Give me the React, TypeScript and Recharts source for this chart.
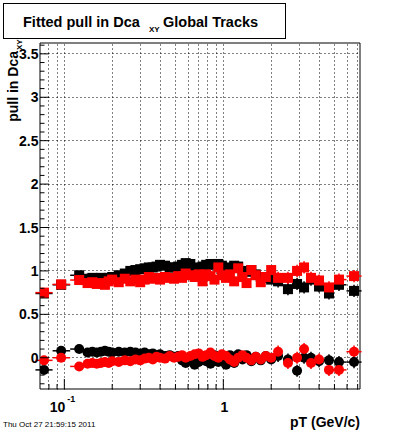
import React from "react";
import {
  ScatterChart,
  Scatter,
  XAxis,
  YAxis,
  ErrorBar,
  ReferenceLine,
  ReferenceArea,
} from "recharts";

// pT bin centres (GeV/c)
const ptBins = [
  0.0745, 0.0955, 0.124, 0.14, 0.15, 0.16, 0.17, 0.18, 0.19, 0.2, 0.22, 0.24,
  0.26, 0.28, 0.3, 0.32, 0.34, 0.36, 0.38, 0.4, 0.43, 0.46, 0.49, 0.52, 0.55,
  0.58, 0.62, 0.66, 0.7, 0.74, 0.78, 0.83, 0.88, 0.93, 0.98, 1.04, 1.1, 1.17,
  1.24, 1.32, 1.4, 1.5, 1.6, 1.72, 1.85, 2.0, 2.21, 2.55, 2.91, 3.22, 3.56, 4.0,
  4.62, 5.34, 6.64,
];

// pull width (squares)
const blackWidth = [
  0.74, 0.84, 0.95, 0.91, 0.92, 0.91, 0.92, 0.9, 0.92, 0.93, 0.95, 0.97, 1.0,
  1.01, 1.02, 1.03, 1.04, 1.04, 1.05, 1.07, 1.06, 1.04, 1.04, 1.05, 1.07, 1.09,
  1.08, 1.04, 1.03, 1.05, 1.07, 1.08, 1.07, 1.08, 1.06, 1.04, 1.03, 1.06, 1.05,
  1.0, 0.99, 1.01, 0.96, 0.93, 0.92, 0.9, 0.88, 0.79, 0.85, 0.81, 0.9, 0.82,
  0.74, 0.84, 0.77,
];
const redWidth = [
  0.75, 0.845, 0.895, 0.86, 0.87, 0.85, 0.86, 0.84, 0.88, 0.9, 0.87, 0.91, 0.88,
  0.9, 0.87, 0.9, 0.93, 0.91, 0.92, 0.9, 0.93, 0.92, 0.91, 0.94, 0.92, 0.97,
  0.95, 0.93, 0.96, 0.88, 0.96, 0.94, 0.9, 1.04, 0.95, 0.92, 0.96, 0.88, 1.03,
  0.93, 0.86, 1.01, 0.95, 0.87, 0.93, 1.01, 0.92, 0.92, 1.0, 1.04, 0.92, 0.89,
  0.81, 0.9, 0.94,
];

// pull mean (circles)
const blackMean = [
  -0.14, 0.08, 0.1, 0.06, 0.07, 0.06, 0.07, 0.08, 0.07, 0.06, 0.07, 0.06, 0.07,
  0.06, 0.05, 0.06, 0.04, 0.05, 0.03, 0.04, 0.02, 0.03, 0.01, 0.02, -0.03,
  -0.06, 0.0, -0.08, -0.05, 0.02, -0.04, -0.07, 0.03, -0.05, -0.02, -0.08, 0.03,
  -0.06, 0.04, -0.02, 0.03, -0.04, 0.01, -0.03, 0.02, -0.02, 0.02, -0.02, -0.15,
  0.0, 0.0, -0.04, -0.03, -0.05, -0.05,
];
const redMean = [
  -0.03, 0.0, -0.1, -0.07, -0.06, -0.07, -0.06, -0.05, -0.06, -0.04, -0.05,
  -0.03, -0.04, -0.02, -0.03, -0.01, 0.0, -0.02, 0.01, 0.0, -0.01, 0.02, 0.0,
  0.01, 0.03, 0.0, 0.02, 0.04, 0.05, 0.01, 0.03, 0.06, 0.02, 0.0, 0.04, 0.02,
  -0.02, -0.05, 0.0, 0.03, 0.0, -0.03, 0.01, -0.02, 0.02, 0.0, 0.07, -0.06, 0.0,
  0.1, -0.06, -0.02, -0.14, -0.14, 0.07,
];

const xTicks = [0.08, 0.09, 0.1, 0.2, 0.3, 0.4, 0.5, 0.6, 0.7, 0.8, 0.9, 1, 2, 3, 4, 5, 6, 7];
const yTicks = [
  -0.3, -0.2, -0.1, 0, 0.1, 0.2, 0.3, 0.4, 0.5, 0.6, 0.7, 0.8, 0.9, 1, 1.1, 1.2,
  1.3, 1.4, 1.5, 1.6, 1.7, 1.8, 1.9, 2, 2.1, 2.2, 2.3, 2.4, 2.5, 2.6, 2.7, 2.8,
  2.9, 3, 3.1, 3.2, 3.3, 3.4, 3.5, 3.6,
];
const yGrid = [0, 0.5, 1, 1.5, 2, 2.5, 3, 3.5];

const xDomain: [number, number] = [0.0703, 7.24];
const yDomain: [number, number] = [-0.36, 3.625];

const FONT = '"Liberation Sans", Arial, Helvetica, sans-serif';
const RED = "#ff0000";

// horizontal bars span half way (in log) to the neighbouring bins
const xErrors = ptBins.map((p, i) => {
  const prev = i > 0 ? ptBins[i - 1] : (p * p) / ptBins[i + 1];
  const next = i < ptBins.length - 1 ? ptBins[i + 1] : (p * p) / ptBins[i - 1];
  return [p - Math.sqrt(prev * p), Math.sqrt(next * p) - p];
});

const makeData = (values: number[]) =>
  ptBins.map((pt, i) => ({
    pt,
    v: values[i],
    ex: xErrors[i],
    ey: pt > 2.1 ? 0.07 : 0.03,
  }));

const square = (color: string) => (props: any) =>
  <rect x={props.cx - 5} y={props.cy - 5} width={10} height={10} fill={color} />;

const circle = (color: string) => (props: any) =>
  <circle cx={props.cx} cy={props.cy} r={5} fill={color} />;

// snap the dotted grid onto pixel centres so it stays crisp
const crisp = (v: number) => Math.round(v - 0.5) + 0.5;
const GridLine = (props: any) => (
  <line
    x1={crisp(props.x1)}
    y1={crisp(props.y1)}
    x2={crisp(props.x2)}
    y2={crisp(props.y2)}
    stroke="#000"
    strokeWidth={1}
    strokeDasharray="1 3"
  />
);

const XTick = (props: any) => {
  const { x, y, payload } = props;
  const v = payload.value;
  const major = v === 0.1 || v === 1;
  return (
    <g>
      <line x1={x} y1={y} x2={x} y2={y - (major ? 10 : 5)} stroke="#000" />
      {v === 0.1 && (
        <g fontFamily={FONT} fontWeight="bold" fill="#000">
          <text x={x + 1} y={y + 23} fontSize={14} textAnchor="end">10</text>
          <text x={x + 3} y={y + 13} fontSize={9}>-1</text>
        </g>
      )}
      {v === 1 && (
        <text x={x + 1} y={y + 23} fontSize={14} textAnchor="middle" fontFamily={FONT} fontWeight="bold" fill="#000">
          1
        </text>
      )}
    </g>
  );
};

const YTick = (props: any) => {
  const { x, y, payload } = props;
  const v = payload.value;
  const major = Math.abs(v * 2 - Math.round(v * 2)) < 1e-6;
  return (
    <g>
      <line x1={x} y1={y} x2={x + (major ? 9 : 4.5)} y2={y} stroke="#000" />
      {major && (
        <text x={x - 1.5} y={y} dy="0.36em" textAnchor="end" fontSize={14} fontFamily={FONT} fontWeight="bold" fill="#000">
          {String(Number(v.toFixed(1)))}
        </text>
      )}
    </g>
  );
};

export default function App() {
  return (
    <div style={{ position: "absolute", left: 0, top: 0, width: 400, height: 433, background: "#fff" }}>
      <ScatterChart width={400} height={433} margin={{ top: 43, right: 40, bottom: 14, left: 10 }}>
        <XAxis
          type="number"
          dataKey="pt"
          scale="log"
          domain={xDomain}
          allowDataOverflow
          ticks={xTicks}
          interval={0}
          tick={<XTick />}
          tickSize={0}
          tickMargin={0}
          tickLine={false}
          axisLine={false}
          height={30}
        />
        <YAxis
          type="number"
          dataKey="v"
          domain={yDomain}
          allowDataOverflow
          ticks={yTicks}
          interval={0}
          tick={<YTick />}
          tickSize={0}
          tickMargin={0}
          tickLine={false}
          axisLine={false}
          width={30}
        />
        {xTicks.map((t) => (
          <ReferenceLine key={"gx" + t} x={t} shape={GridLine} />
        ))}
        {yGrid.map((t) => (
          <ReferenceLine key={"gy" + t} y={t} shape={GridLine} />
        ))}
        <ReferenceArea
          x1={xDomain[0]}
          x2={xDomain[1]}
          y1={yDomain[0]}
          y2={yDomain[1]}
          fill="none"
          fillOpacity={0}
          stroke="#000"
          strokeWidth={1}
        />
        <Scatter data={makeData(blackWidth)} shape={square("#000")} isAnimationActive={false}>
          <ErrorBar dataKey="ex" direction="x" width={0} stroke="#000" />
          <ErrorBar dataKey="ey" direction="y" width={0} stroke="#000" />
        </Scatter>
        <Scatter data={makeData(blackMean)} shape={circle("#000")} isAnimationActive={false}>
          <ErrorBar dataKey="ex" direction="x" width={0} stroke="#000" />
          <ErrorBar dataKey="ey" direction="y" width={0} stroke="#000" />
        </Scatter>
        <Scatter data={makeData(redWidth)} shape={square(RED)} isAnimationActive={false}>
          <ErrorBar dataKey="ex" direction="x" width={0} stroke={RED} />
          <ErrorBar dataKey="ey" direction="y" width={0} stroke={RED} />
        </Scatter>
        <Scatter data={makeData(redMean)} shape={circle(RED)} isAnimationActive={false}>
          <ErrorBar dataKey="ex" direction="x" width={0} stroke={RED} />
          <ErrorBar dataKey="ey" direction="y" width={0} stroke={RED} />
        </Scatter>
      </ScatterChart>
      <svg
        width={400}
        height={433}
        style={{ position: "absolute", left: 0, top: 0, pointerEvents: "none" }}
        fontFamily={FONT}
      >
        <rect x={3.5} y={3.5} width={282} height={35} fill="#fff" stroke="#000" />
        <text x={23} y={27} fontSize={14.5} fontWeight="bold">Fitted pull in Dca</text>
        <text x={149} y={32} fontSize={8} fontWeight="bold">XY</text>
        <text x={163} y={27} fontSize={14.5} fontWeight="bold">Global Tracks</text>
        <g transform="translate(18, 51) rotate(-90)">
          <text x={0} y={0} fontSize={14} fontWeight="bold" textAnchor="end">pull in Dca</text>
          <text x={1} y={4} fontSize={8} fontWeight="bold">XY</text>
        </g>
        <text x={360} y={427} fontSize={14} fontWeight="bold" textAnchor="end">pT (GeV/c)</text>
        <text x={3} y={427} fontSize={8}>Thu Oct 27 21:59:15 2011</text>
      </svg>
    </div>
  );
}
